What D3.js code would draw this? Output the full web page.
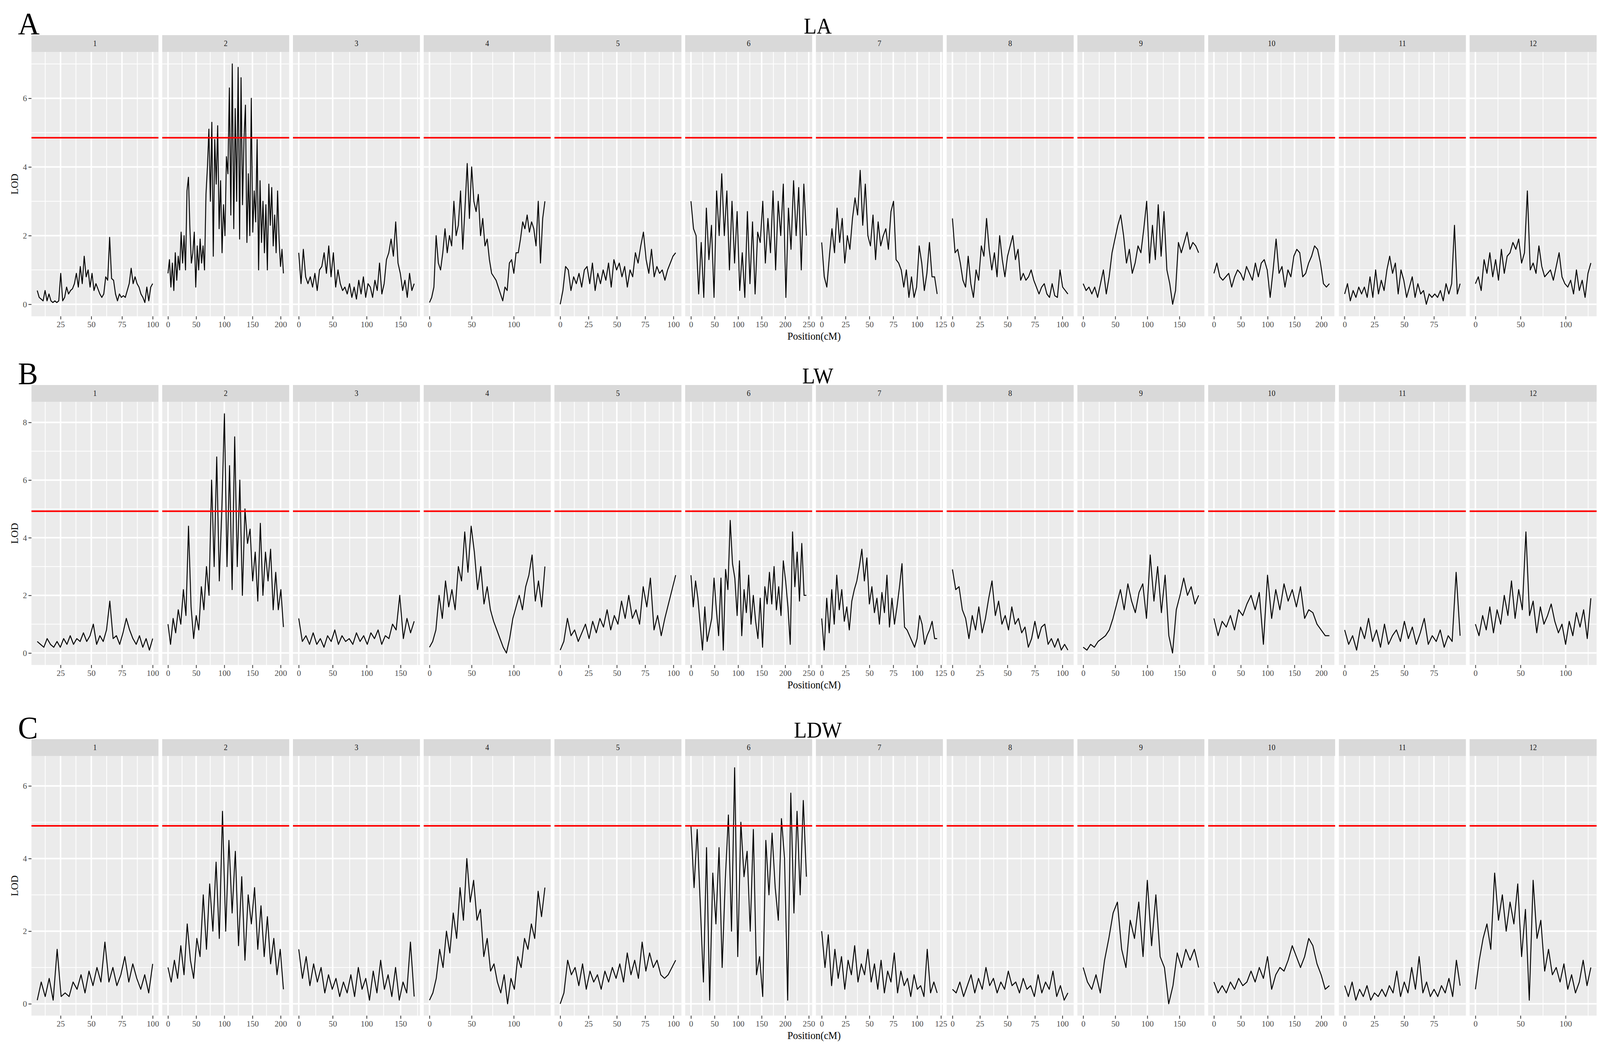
<!DOCTYPE html>
<html>
<head>
<meta charset="utf-8">
<script src="https://cdn.jsdelivr.net/npm/d3@7"></script>
<style>
  html, body { margin: 0; padding: 0; background: #fff; overflow: hidden; }
  svg { display: block; width: 100vw; height: 100vh; }
  text { font-family: "Liberation Serif", "DejaVu Serif", serif; }
</style>
</head>
<body>
<div id="chart"></div>
<script>
'use strict';

var chromosomes = ['1', '2', '3', '4', '5', '6', '7', '8', '9', '10', '11', '12'];
var chromStart = [6, 0, 0, 0, 0, 0, 0, 0, 0, 0, 0, 0];
var chromEnd = [100, 205, 170, 137, 102, 245, 121, 105, 180, 215, 97, 128];
var chromTicks = [
  [25, 50, 75, 100], [0, 50, 100, 150, 200], [0, 50, 100, 150], [0, 50, 100],
  [0, 25, 50, 75, 100], [0, 50, 100, 150, 200, 250], [0, 25, 50, 75, 100, 125],
  [0, 25, 50, 75, 100], [0, 50, 100, 150], [0, 50, 100, 150, 200],
  [0, 25, 50, 75], [0, 50, 100]
];

var traits = ['LA', 'LW', 'LDW'];
var panelLetters = ['A', 'B', 'C'];
var thresholds = [4.85, 4.92, 4.9];
var lodMax = [7.0, 8.3, 6.5];
var lodTicks = [[0, 2, 4, 6], [0, 2, 4, 6, 8], [0, 2, 4, 6]];

var laLod = [
  [0.4,0.2,0.15,0.1,0.4,0.1,0.3,0.1,0.05,0.1,0.05,0.1,0.9,0.1,0.2,0.5,0.3,0.4,0.45,0.6,0.9,0.5,1.1,0.6,1.4,0.8,1.0,0.5,0.9,0.4,0.6,0.45,0.3,0.2,0.3,0.8,0.7,1.95,0.75,0.7,0.3,0.1,0.3,0.2,0.25,0.2,0.4,0.6,1.05,0.6,0.8,0.6,0.5,0.3,0.2,0.05,0.5,0.1,0.5,0.6],
  [0.9,1.3,0.5,1.2,0.4,1.5,0.7,1.4,1.0,2.1,1.2,2.0,1.0,3.3,3.7,2.2,1.2,1.5,2.1,0.5,1.7,1.0,1.9,1.2,1.7,1.0,3.2,4.0,5.1,3.0,5.3,1.4,4.8,3.5,5.2,2.2,3.6,1.5,2.9,2.0,4.3,3.8,6.3,2.6,7.0,2.2,5.7,3.0,6.9,1.9,6.6,2.9,4.8,5.8,1.8,3.8,2.0,6.0,2.1,3.3,2.4,4.8,1.0,3.6,1.8,3.0,1.5,2.9,1.0,3.5,2.3,3.4,1.7,2.6,1.5,3.3,1.9,1.1,1.6,0.9],
  [1.5,0.6,1.6,0.8,0.6,0.8,0.5,0.9,0.4,1.0,1.1,1.5,0.9,1.7,0.8,1.5,0.5,1.0,0.6,0.4,0.5,0.3,0.6,0.2,0.5,0.15,0.7,0.3,0.8,0.2,0.6,0.5,0.2,0.7,0.4,1.2,0.3,0.6,1.3,1.5,1.9,1.4,2.4,1.2,0.9,0.4,0.7,0.2,0.9,0.4,0.6],
  [0.05,0.2,0.5,2.0,1.2,1.0,1.5,2.2,1.5,2.0,1.7,3.0,2.0,2.3,3.3,1.6,2.8,4.1,2.5,4.0,3.0,2.7,3.2,2.0,2.5,1.7,1.9,1.3,0.9,0.8,0.7,0.5,0.3,0.1,0.5,0.4,1.2,1.3,0.9,1.5,1.5,1.9,2.4,2.2,2.6,2.1,2.4,2.2,1.7,3.0,1.2,2.5,3.0],
  [0.0,0.4,1.1,1.0,0.4,0.8,0.6,0.9,0.5,1.0,1.1,0.6,1.2,0.4,0.9,0.6,1.0,0.7,1.2,0.5,1.3,1.0,1.2,0.8,1.1,0.5,1.0,0.8,1.5,1.2,1.7,2.1,1.3,0.9,1.6,0.8,1.1,0.9,1.0,0.7,1.0,1.2,1.4,1.5],
  [3.0,2.2,2.0,0.3,1.8,0.2,2.8,1.3,2.3,0.2,3.3,2.0,3.8,2.0,3.3,1.0,3.0,1.2,2.7,0.4,1.5,0.2,2.7,0.6,2.4,0.3,2.1,1.8,3.0,1.2,2.5,1.5,3.3,1.0,3.0,2.0,3.5,0.2,2.8,1.6,3.6,2.0,3.4,1.0,3.5,2.0],
  [1.8,0.8,0.5,1.4,2.2,1.5,2.8,1.8,2.5,1.2,2.0,1.6,2.5,3.1,2.6,3.9,2.3,3.5,2.0,1.7,2.6,1.3,2.4,1.7,2.0,2.2,1.6,2.7,3.0,1.3,1.2,1.0,0.5,1.0,0.2,0.8,0.2,0.5,1.7,1.2,0.4,0.9,1.8,0.8,0.8,0.3],
  [2.5,1.5,1.6,1.2,0.7,0.5,1.4,0.6,0.2,1.0,0.7,1.7,1.4,2.5,1.6,1.0,1.5,0.8,2.0,1.3,0.8,1.4,1.7,2.0,1.3,1.6,0.7,0.9,0.7,0.8,1.0,0.7,0.5,0.3,0.5,0.6,0.3,0.2,0.6,0.25,0.2,1.0,0.5,0.4,0.3],
  [0.6,0.4,0.5,0.3,0.5,0.2,0.6,1.0,0.3,0.8,1.5,1.9,2.3,2.6,2.0,1.2,1.6,0.9,1.2,1.7,1.5,2.2,3.0,1.2,2.3,1.3,2.9,1.4,2.7,1.0,0.6,0.0,0.4,1.8,1.5,1.8,2.1,1.6,1.8,1.7,1.5],
  [0.9,1.2,0.8,0.7,0.8,0.9,0.5,0.8,1.0,0.9,0.7,1.1,0.9,0.7,1.2,0.8,1.2,1.3,1.0,0.2,1.0,1.9,0.9,1.1,0.5,1.0,0.8,1.4,1.6,1.5,0.8,0.9,1.2,1.4,1.7,1.6,1.2,0.6,0.5,0.6],
  [0.3,0.6,0.1,0.4,0.2,0.5,0.3,0.5,0.2,0.8,0.2,1.0,0.3,0.7,0.4,1.0,1.4,0.9,1.2,0.3,1.0,0.7,0.2,0.5,0.8,0.2,0.6,0.3,0.4,0.0,0.3,0.2,0.3,0.2,0.4,0.1,0.6,0.3,0.6,2.3,0.3,0.6],
  [0.6,0.8,0.4,1.3,0.9,1.5,0.8,1.3,0.7,1.6,0.9,1.4,1.5,1.8,1.6,1.9,1.2,1.5,3.3,1.0,1.2,0.9,1.7,1.1,0.8,0.9,1.0,0.7,1.1,1.5,0.8,0.6,0.5,0.7,0.3,1.0,0.4,0.7,0.2,0.9,1.2]
];

var lwLod = [
  [0.4,0.3,0.2,0.5,0.3,0.2,0.4,0.2,0.5,0.3,0.6,0.3,0.5,0.4,0.7,0.4,0.6,1.0,0.3,0.6,0.4,0.8,1.8,0.5,0.6,0.3,0.7,1.2,0.8,0.5,0.3,0.6,0.2,0.5,0.1,0.5],
  [1.0,0.3,1.2,0.7,1.5,1.0,2.2,1.3,4.4,1.6,0.5,1.3,0.8,2.3,1.5,3.0,2.0,6.0,3.0,6.8,2.5,5.0,8.3,3.0,6.5,2.2,7.5,3.0,6.0,2.0,5.0,3.8,4.3,2.5,3.5,1.8,4.5,2.0,3.5,2.5,3.6,1.5,2.8,1.5,2.2,0.9],
  [1.2,0.4,0.6,0.3,0.7,0.3,0.5,0.2,0.6,0.4,0.8,0.3,0.6,0.4,0.5,0.3,0.7,0.4,0.6,0.3,0.7,0.5,0.8,0.3,0.6,0.5,1.0,0.8,2.0,0.5,1.2,0.7,1.1],
  [0.2,0.4,0.8,2.0,1.2,2.5,1.6,2.2,1.5,3.0,2.5,4.2,2.8,4.4,3.5,2.2,3.0,1.7,2.3,1.5,1.1,0.8,0.5,0.2,0.0,0.5,1.2,1.6,2.0,1.5,2.3,2.7,3.4,1.8,2.5,1.6,3.0],
  [0.1,0.4,1.2,0.6,0.8,0.4,0.7,1.0,0.5,1.1,0.7,1.2,0.9,1.5,0.8,1.3,1.0,1.8,1.2,2.0,1.2,1.5,1.0,2.3,1.6,2.6,0.8,1.3,0.6,1.2,1.7,2.2,2.7],
  [2.7,1.6,2.5,1.9,1.0,0.1,1.6,0.4,0.8,1.2,2.6,1.5,0.6,2.6,0.1,2.9,2.2,4.6,3.1,2.6,1.3,3.2,0.6,2.2,1.4,2.7,1.0,2.0,1.1,0.5,1.9,0.2,2.3,1.7,2.8,1.7,3.0,1.5,2.3,1.3,3.2,2.5,1.6,0.3,4.2,2.3,3.5,1.8,3.8,2.0,2.0],
  [1.2,0.1,1.9,0.7,2.2,1.0,2.7,1.5,2.2,1.1,1.6,0.8,1.8,2.2,2.5,3.0,3.6,2.5,3.3,1.7,2.3,1.4,1.9,1.0,2.1,1.4,2.7,0.9,1.9,1.0,1.6,2.3,3.1,0.9,0.8,0.6,0.4,0.2,0.5,1.3,1.0,0.3,0.6,0.8,1.1,0.5,0.5],
  [2.9,2.2,2.3,1.5,1.2,0.5,1.3,0.8,1.6,0.7,1.2,1.9,2.5,1.3,1.8,1.0,1.3,0.8,1.6,1.0,1.2,0.7,0.9,0.2,0.5,1.1,0.5,0.9,1.0,0.3,0.5,0.2,0.5,0.1,0.3,0.1],
  [0.2,0.1,0.3,0.2,0.4,0.5,0.6,0.8,1.2,1.7,2.2,1.5,2.4,1.8,1.4,2.1,2.4,1.2,3.4,1.8,3.0,1.4,2.7,0.6,0.0,1.5,2.0,2.6,2.0,2.3,1.7,2.0],
  [1.2,0.6,1.1,0.9,1.3,0.8,1.5,1.3,1.7,2.0,1.5,2.1,0.3,2.7,1.2,2.2,1.5,2.4,1.8,2.2,1.6,2.3,1.2,1.5,1.4,1.0,0.8,0.6,0.6],
  [0.8,0.3,0.6,0.1,0.9,0.5,1.2,0.4,0.8,0.2,1.0,0.3,0.6,0.8,0.4,1.1,0.5,0.9,0.3,0.7,1.2,0.3,0.6,0.4,0.8,0.2,0.6,0.4,2.8,0.6],
  [1.0,0.6,1.3,0.8,1.6,0.7,1.5,1.0,2.0,1.3,2.5,1.2,2.2,1.5,4.2,1.3,1.8,0.7,1.6,1.0,1.3,1.7,1.1,0.7,1.0,0.3,1.1,0.6,1.4,0.9,1.5,0.5,1.9]
];

var ldwLod = [
  [0.1,0.6,0.2,0.7,0.1,1.5,0.2,0.3,0.2,0.6,0.4,0.8,0.3,0.9,0.5,1.0,0.6,1.7,0.6,1.0,0.5,0.8,1.3,0.6,1.1,0.7,0.4,0.8,0.3,1.1],
  [1.0,0.6,1.2,0.7,1.6,0.8,2.2,1.2,0.7,1.8,1.3,3.0,1.5,3.3,2.0,3.9,1.8,5.3,2.0,4.5,2.5,4.2,1.6,3.5,1.2,3.0,2.2,3.2,1.5,2.7,1.3,2.4,1.1,1.8,0.8,1.5,0.4],
  [1.5,0.7,1.3,0.5,1.1,0.6,1.0,0.3,0.8,0.4,0.7,0.2,0.6,0.3,0.8,0.2,1.0,0.4,0.7,0.1,0.9,0.3,1.2,0.4,0.8,0.2,1.0,0.1,0.6,0.3,1.7,0.2],
  [0.1,0.3,0.7,1.5,1.0,2.0,1.4,2.5,1.8,3.2,2.3,4.0,2.8,3.4,2.3,2.6,1.3,1.8,0.9,1.1,0.6,0.3,0.8,0.0,0.7,0.4,1.3,1.0,1.8,1.5,2.2,1.8,3.1,2.4,3.2],
  [0.0,0.3,1.2,0.8,1.0,0.5,1.1,0.4,0.9,0.6,0.8,0.4,0.9,0.6,1.0,0.7,1.1,0.6,1.4,0.8,1.2,0.7,1.7,0.9,1.4,1.0,1.2,0.8,0.7,0.8,1.0,1.2],
  [4.9,3.2,4.8,2.7,0.6,4.3,0.1,3.6,2.2,4.3,1.0,3.4,5.2,2.0,6.5,1.3,5.0,3.5,4.2,2.0,4.8,0.8,1.3,0.2,4.5,3.0,4.7,3.2,2.3,5.1,4.0,0.1,5.8,2.5,5.3,3.0,5.6,3.5],
  [2.0,1.0,1.9,0.5,1.5,0.7,1.3,0.4,1.2,0.8,1.6,0.6,1.1,0.8,1.5,0.6,1.1,0.4,1.2,0.3,0.9,0.6,1.4,0.3,0.9,0.5,0.7,0.2,0.8,0.4,0.5,0.2,1.5,0.3,0.6,0.3],
  [0.4,0.3,0.6,0.2,0.5,0.8,0.3,0.7,0.4,1.0,0.5,0.7,0.3,0.6,0.4,0.9,0.5,0.6,0.3,0.7,0.4,0.5,0.2,0.8,0.3,0.6,0.4,0.9,0.2,0.5,0.1,0.3],
  [1.0,0.6,0.4,0.8,0.3,1.2,1.8,2.5,2.8,1.5,1.0,2.3,1.8,2.8,1.3,3.4,1.6,3.0,1.3,1.0,0.0,0.5,1.4,1.0,1.5,1.2,1.5,1.0],
  [0.6,0.3,0.5,0.3,0.6,0.4,0.7,0.5,0.6,0.9,0.6,1.0,0.7,1.3,0.4,0.8,1.0,0.9,1.2,1.6,1.3,1.0,1.3,1.8,1.6,1.1,0.8,0.4,0.5],
  [0.5,0.2,0.6,0.1,0.4,0.2,0.5,0.1,0.3,0.2,0.4,0.2,0.5,0.3,0.9,0.2,0.6,0.3,1.0,0.4,1.3,0.3,0.6,0.2,0.4,0.2,0.5,0.3,0.7,0.2,1.2,0.5],
  [0.4,1.2,1.8,2.2,1.5,3.6,2.3,3.0,2.0,2.8,2.2,3.3,1.3,2.6,0.1,3.4,1.8,2.3,0.9,1.5,0.8,1.0,0.6,1.1,0.4,0.8,0.3,0.6,1.2,0.5,1.0]
];

var traitLod = [laLod, lwLod, ldwLod];

// layout (px, in the 4271x2707 frame)
var W = 4271, H = 2707;
var plotLeft = 84, panelW = 339, panelGap = 10, stripH = 43;
var rowStripTop = [90, 986, 1893];
var rowPanelBottom = [810, 1703, 2601];
var grey30 = '#4d4d4d';

var svg = d3.select('#chart').append('svg')
  .attr('viewBox', '0 0 ' + W + ' ' + H)
  .attr('preserveAspectRatio', 'none');

svg.append('rect').attr('width', W).attr('height', H).attr('fill', '#fff');

var line = d3.line();

traits.forEach(function (trait, r) {
  var top = rowStripTop[r] + stripH;
  var bottom = rowPanelBottom[r];
  var pad = lodMax[r] * 0.05;
  var y = d3.scaleLinear().domain([-pad, lodMax[r] + pad]).range([bottom, top]);
  var row = svg.append('g');

  chromosomes.forEach(function (chr, c) {
    var left = plotLeft + c * (panelW + panelGap);
    var span = chromEnd[c] - chromStart[c];
    var x = d3.scaleLinear()
      .domain([chromStart[c] - span * 0.05, chromEnd[c] + span * 0.05])
      .range([left, left + panelW]);
    var g = row.append('g');

    g.append('rect')
      .attr('x', left).attr('y', top)
      .attr('width', panelW).attr('height', bottom - top)
      .attr('fill', '#ebebeb');

    // minor grid
    var xt = chromTicks[c];
    var step = xt[1] - xt[0];
    var xMinor = d3.range(xt[0] - step / 2, chromEnd[c] + span * 0.05, step)
      .filter(function (v) { return v > x.domain()[0]; });
    g.selectAll('.xminor').data(xMinor).enter().append('line')
      .attr('x1', x).attr('x2', x).attr('y1', top).attr('y2', bottom)
      .attr('stroke', '#fff').attr('stroke-width', 2);
    var yMinor = d3.range(1, lodMax[r] + pad, 2);
    g.selectAll('.yminor').data(yMinor).enter().append('line')
      .attr('x1', left).attr('x2', left + panelW)
      .attr('y1', y).attr('y2', y)
      .attr('stroke', '#fff').attr('stroke-width', 2);

    // major grid
    g.selectAll('.xmajor').data(xt).enter().append('line')
      .attr('x1', x).attr('x2', x).attr('y1', top).attr('y2', bottom)
      .attr('stroke', '#fff').attr('stroke-width', 4);
    g.selectAll('.ymajor').data(lodTicks[r]).enter().append('line')
      .attr('x1', left).attr('x2', left + panelW)
      .attr('y1', y).attr('y2', y)
      .attr('stroke', '#fff').attr('stroke-width', 4);

    // strip
    g.append('rect')
      .attr('x', left).attr('y', rowStripTop[r])
      .attr('width', panelW).attr('height', stripH)
      .attr('fill', '#d9d9d9');
    g.append('text')
      .attr('x', left + panelW / 2).attr('y', rowStripTop[r] + stripH / 2 + 7)
      .attr('text-anchor', 'middle')
      .attr('font-size', 20).attr('fill', '#1a1a1a')
      .text(chr);

    // LOD curve
    var vals = traitLod[r][c];
    var n = vals.length;
    var pts = vals.map(function (v, i) {
      var pos = chromStart[c] + span * i / (n - 1);
      return [x(pos), y(v)];
    });
    g.append('path')
      .attr('d', line(pts))
      .attr('fill', 'none')
      .attr('stroke', '#000')
      .attr('stroke-width', 2.5)
      .attr('stroke-linejoin', 'round');

    // threshold
    g.append('line')
      .attr('x1', left).attr('x2', left + panelW)
      .attr('y1', y(thresholds[r])).attr('y2', y(thresholds[r]))
      .attr('stroke', '#ff0000').attr('stroke-width', 4);

    // x axis
    var xAxis = d3.axisBottom(x).tickValues(xt).tickSize(8).tickPadding(4);
    var ax = g.append('g').attr('transform', 'translate(0,' + bottom + ')').call(xAxis);
    ax.select('.domain').remove();
    ax.selectAll('line').attr('stroke', '#333').attr('stroke-width', 2);
    ax.selectAll('text').attr('font-size', 22).attr('fill', grey30)
      .style('font-family', '"Liberation Serif", serif');
  });

  // y axis
  var yAxis = d3.axisLeft(y).tickValues(lodTicks[r]).tickSize(8).tickPadding(4);
  var ay = row.append('g').attr('transform', 'translate(' + plotLeft + ',0)').call(yAxis);
  ay.select('.domain').remove();
  ay.selectAll('line').attr('stroke', '#333').attr('stroke-width', 2);
  ay.selectAll('text').attr('font-size', 22).attr('fill', grey30)
    .style('font-family', '"Liberation Serif", serif');

  row.append('text')
    .attr('transform', 'translate(48,' + (top + bottom) / 2 + ') rotate(-90)')
    .attr('text-anchor', 'middle')
    .attr('font-size', 26)
    .text('LOD');

  var plotRight = plotLeft + chromosomes.length * panelW + (chromosomes.length - 1) * panelGap;
  row.append('text')
    .attr('x', (plotLeft + plotRight) / 2).attr('y', bottom + 60)
    .attr('text-anchor', 'middle')
    .attr('font-size', 27)
    .text('Position(cM)');

  row.append('text')
    .attr('x', (plotLeft + plotRight) / 2 + 10).attr('y', rowStripTop[r] - 4)
    .attr('text-anchor', 'middle')
    .attr('font-size', 56)
    .text(trait);

  row.append('text')
    .attr('x', 48).attr('y', rowStripTop[r] - 2)
    .attr('font-size', 80)
    .text(panelLetters[r]);
});
</script>
</body>
</html>
